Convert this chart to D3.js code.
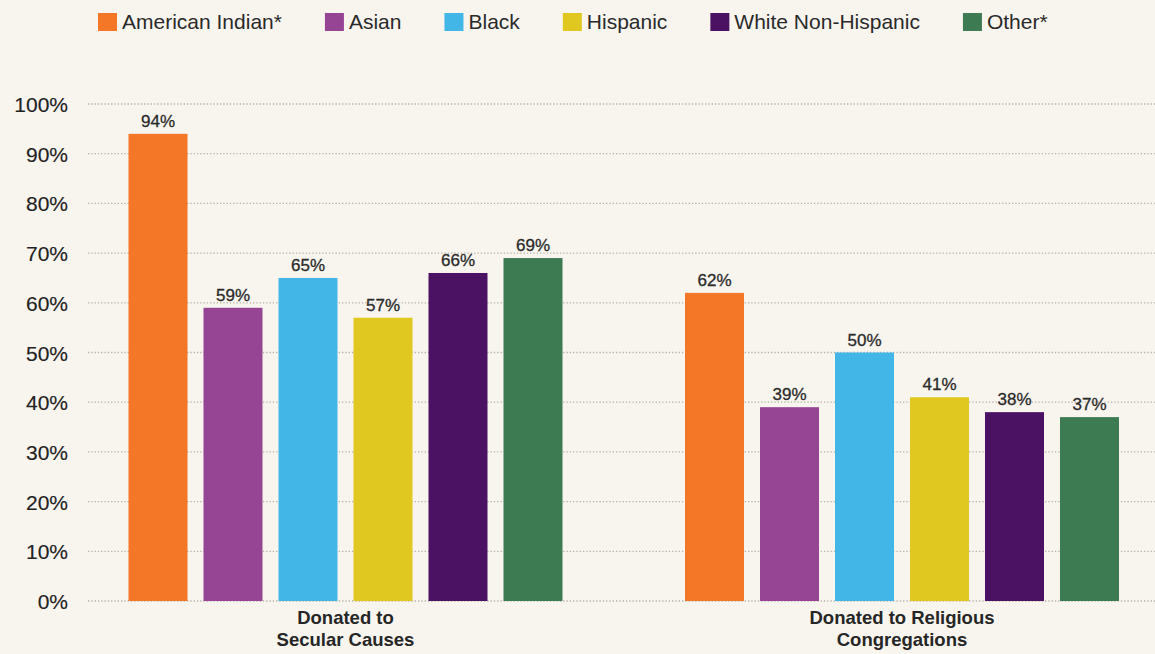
<!DOCTYPE html>
<html>
<head>
<meta charset="utf-8">
<script src="https://cdn.jsdelivr.net/npm/d3@7"></script>
<style>
  html, body { margin: 0; padding: 0; background: #f8f5ef; }
  svg { display: block; font-family: "Liberation Sans", Arial, sans-serif; }
</style>
</head>
<body>
<svg id="chart" width="1155" height="654"></svg>
<script>
// groups along the x axis (each label split over two lines)
const categories = ['Donated to Secular Causes', 'Donated to Religious Congregations'];
const categoryLines = [['Donated to', 'Secular Causes'], ['Donated to Religious', 'Congregations']];

const groups = ['American Indian*', 'Asian', 'Black', 'Hispanic', 'White Non-Hispanic', 'Other*'];
const colors = ['#f47727', '#964594', '#42b6e7', '#e0c820', '#4b1263', '#3d7b53'];

// percent who donated, per group, in order of `groups`
const secular = [94, 59, 65, 57, 66, 69];
const religious = [62, 39, 50, 41, 38, 37];

const yTicks = [0, 10, 20, 30, 40, 50, 60, 70, 80, 90, 100];

const width = 1155, height = 654;
const svg = d3.select('#chart');

let data = categories.map(function(c, i) {
  let vals = i === 0 ? secular : religious;
  return { category: c, lines: categoryLines[i], values: groups.map(function(g, j) { return { key: g, value: vals[j] }; }) };
});

// scales
let y = d3.scaleLinear().domain([0, 100]).range([601, 104]);
let x0 = d3.scalePoint().domain(categories).range([345.5, 902]);
let x1 = d3.scaleBand().domain(groups).range([-225, 225]).paddingInner(0.2133).paddingOuter(0.1067);
let z = d3.scaleOrdinal().domain(groups).range(colors);

// grid lines
let grid = svg.append('g');
grid.selectAll('line')
  .data(yTicks)
  .enter().append('line')
  .attr('x1', 88)
  .attr('x2', width)
  .attr('y1', function(d) { return y(d); })
  .attr('y2', function(d) { return y(d); })
  .attr('stroke', '#b4b0a8')
  .attr('stroke-width', 1.3)
  .attr('stroke-dasharray', '1.3,2');

// y axis labels
svg.append('g')
  .selectAll('text')
  .data(yTicks)
  .enter().append('text')
  .attr('x', 68)
  .attr('y', function(d) { return y(d) + 8; })
  .attr('text-anchor', 'end')
  .attr('fill', '#222')
  .attr('stroke', '#222')
  .attr('stroke-width', 0.15)
  .style('font-size', '21px')
  .text(function(d) { return d + '%'; });

// bars
let group = svg.append('g')
  .selectAll('g')
  .data(data)
  .enter().append('g')
  .attr('transform', function(d) { return 'translate(' + x0(d.category) + ',0)'; });

group.selectAll('rect')
  .data(function(d) { return d.values; })
  .enter().append('rect')
  .attr('x', function(d) { return x1(d.key); })
  .attr('y', function(d) { return y(d.value); })
  .attr('width', x1.bandwidth())
  .attr('height', function(d) { return y(0) - y(d.value); })
  .attr('fill', function(d) { return z(d.key); });

group.selectAll('text.value')
  .data(function(d) { return d.values; })
  .enter().append('text')
  .attr('class', 'value')
  .attr('x', function(d) { return x1(d.key) + x1.bandwidth() / 2; })
  .attr('y', function(d) { return y(d.value) - 7; })
  .attr('text-anchor', 'middle')
  .attr('fill', '#2a2a2a')
  .attr('stroke', '#2a2a2a')
  .attr('stroke-width', 0.3)
  .style('font-size', '17px')
  .text(function(d) { return d.value + '%'; });

// category labels
group.selectAll('text.cat')
  .data(function(d) { return d.lines; })
  .enter().append('text')
  .attr('class', 'cat')
  .attr('x', 0)
  .attr('y', function(d, i) { return 624 + i * 22; })
  .attr('text-anchor', 'middle')
  .attr('fill', '#262626')
  .style('font-size', '18.5px')
  .style('font-weight', 'bold')
  .text(function(d) { return d; });

// legend, laid out left to right from measured text widths
let legend = svg.append('g');
let lx = 98;
groups.forEach(function(g) {
  let item = legend.append('g').attr('transform', 'translate(' + lx + ',0)');
  item.append('rect')
    .attr('x', 0)
    .attr('y', 13)
    .attr('width', 19)
    .attr('height', 18)
    .attr('fill', z(g));
  let t = item.append('text')
    .attr('x', 24)
    .attr('y', 29)
    .attr('fill', '#2a2a2a')
    .style('font-size', '21px')
    .text(g);
  lx += 24 + t.node().getComputedTextLength() + 43;
});
</script>
</body>
</html>
